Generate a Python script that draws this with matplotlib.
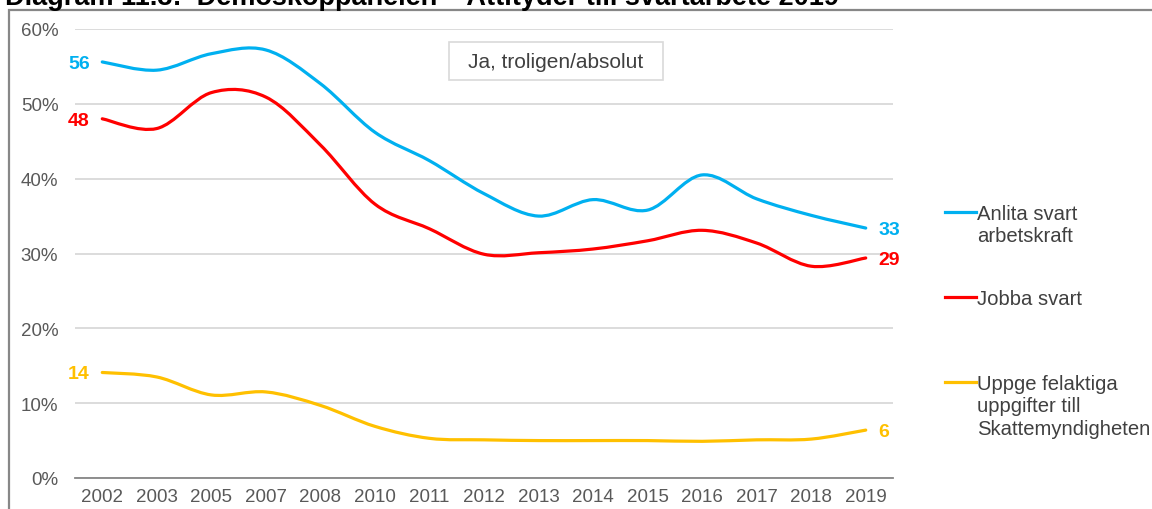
import numpy as np
import matplotlib
matplotlib.use('Agg')
import matplotlib.pyplot as plt
from matplotlib.path import Path
from matplotlib.patches import PathPatch, Rectangle
from matplotlib.lines import Line2D

plt.rcParams['font.family'] = ['Liberation Sans', 'DejaVu Sans']

# Andel som svarat "Ja, troligen/absolut" (%)
years = ['2002', '2003', '2005', '2007', '2008', '2010', '2011', '2012',
         '2013', '2014', '2015', '2016', '2017', '2018', '2019']
anlita = [55.6, 54.5, 56.7, 57.2, 52.7, 46.2, 42.4, 38.0,
          35.0, 37.2, 35.8, 40.5, 37.3, 35.1, 33.4]
jobba = [48.0, 46.7, 51.5, 50.9, 44.5, 36.6, 33.3, 29.9,
         30.1, 30.6, 31.7, 33.1, 31.4, 28.3, 29.4]
uppge = [14.1, 13.5, 11.1, 11.5, 9.7, 6.9, 5.3, 5.1,
         5.0, 5.0, 5.0, 4.9, 5.1, 5.2, 6.4]

series = [
    (anlita, '#00B0F0', 'Anlita svart\narbetskraft'),
    (jobba, '#FF0000', 'Jobba svart'),
    (uppge, '#FFC000', 'Uppge felaktiga\nuppgifter till\nSkattemyndigheten'),
]

W, H = 1152, 510
fig = plt.figure(figsize=(W / 100, H / 100), dpi=100)
ax = fig.add_axes([75 / W, 31 / H, 818 / W, 449 / H])


def smooth_path(x, y):
    # utjämnad linje (Catmull-Rom som Bezier-kurvor)
    pts = np.column_stack([x, y]).astype(float)
    ext = np.vstack([pts[0], pts, pts[-1]])
    verts = [pts[0]]
    codes = [Path.MOVETO]
    for i in range(1, len(ext) - 2):
        p0, p1, p2, p3 = ext[i - 1], ext[i], ext[i + 1], ext[i + 2]
        c1 = p1 + (p2 - p0) / 6
        c2 = p2 - (p3 - p1) / 6
        verts += [c1, c2, p2]
        codes += [Path.CURVE4] * 3
    return Path(verts, codes)


x = np.arange(len(years))
for vals, col, name in series:
    ax.add_patch(PathPatch(smooth_path(x, vals), fill=False, edgecolor=col,
                           lw=2.3, capstyle='round', zorder=3))
    ax.annotate(f'{vals[0]:.0f}', (x[0], vals[0]), xytext=(-9, -1),
                textcoords='offset points', ha='right', va='center',
                color=col, fontsize=14, fontweight='bold')
    ax.annotate(f'{vals[-1]:.0f}', (x[-1], vals[-1]), xytext=(9, -1),
                textcoords='offset points', ha='left', va='center',
                color=col, fontsize=14, fontweight='bold')

ax.set_xlim(-0.5, len(years) - 0.5)
ax.set_ylim(0, 60)
ax.set_xticks(x)
ax.set_xticklabels(years)
ax.set_yticks(range(0, 61, 10))
ax.set_yticklabels([f'{v}%' for v in range(0, 61, 10)])
ax.tick_params(length=0, labelsize=13.5, labelcolor='#595959')
ax.tick_params(axis='y', pad=12)
ax.tick_params(axis='x', pad=7)
ax.grid(axis='y', color='#D9D9D9', lw=1.3)
ax.set_axisbelow(True)
for s in ['left', 'right', 'top']:
    ax.spines[s].set_visible(False)
ax.spines['bottom'].set_color('#868686')
ax.spines['bottom'].set_linewidth(1.3)

# rubrikruta
fig.add_artist(Rectangle((449 / W, 1 - 81 / H), 214 / W, 38 / H,
                         transform=fig.transFigure, fc='white',
                         ec='#D9D9D9', lw=1.2))
fig.text(556 / W, 1 - 62 / H, 'Ja, troligen/absolut', ha='center',
         va='center', fontsize=15, color='#404040')

# teckenförklaring till höger
legend_rows = [213, 298, 383]
for (vals, col, name), yc in zip(series, legend_rows):
    yf = 1 - yc / H
    fig.add_artist(Line2D([945 / W, 976 / W], [yf, yf], color=col, lw=2.3,
                          transform=fig.transFigure))
    fig.text(977 / W, 1 - (yc - 8) / H, name, ha='left', va='top',
             fontsize=14.6, color='#404040', linespacing=1.22)

# ram runt diagrammet
fig.add_artist(Rectangle((8.5 / W, -0.1), 1.2, 1 - 10.5 / H + 0.1,
                         transform=fig.transFigure, fill=False,
                         ec='#878787', lw=1.6))

fig.text(5 / W, 1 - 5 / H,
         'Diagram 11.3:  Demoskoppanelen – Attityder till svartarbete 2019',
         ha='left', va='baseline', fontsize=19.5, fontweight='bold',
         color='black')

fig.savefig('out.png', dpi=100)
